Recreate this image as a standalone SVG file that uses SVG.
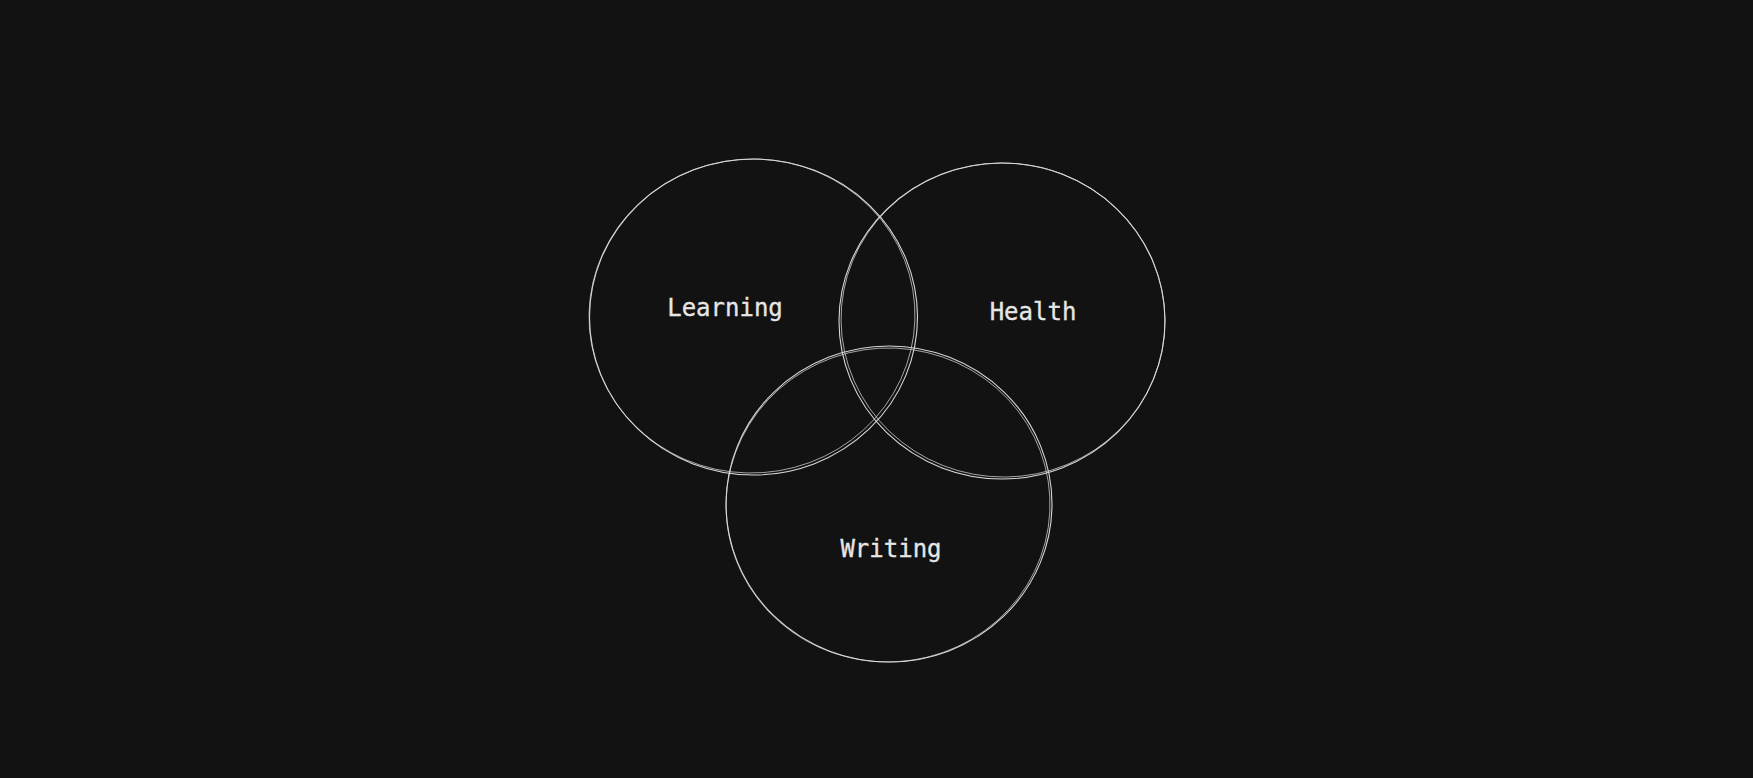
<svg xmlns="http://www.w3.org/2000/svg" width="1753" height="778" viewBox="0 0 1753 778">
<style>
.c{fill:none;stroke:#d8d8d8;stroke-width:1.1;stroke-linecap:round}
.c2{fill:none;stroke:#d8d8d8;stroke-width:0.9;stroke-opacity:0.8}
.t{font-family:"DejaVu Sans Mono","Liberation Mono",monospace;font-size:24px;fill:#e6e6e6;text-anchor:middle;stroke:#e6e6e6;stroke-width:0.3}
</style>
<rect width="1753" height="778" fill="#121212"/>
<g id="learning">
<ellipse class="c" cx="753.5" cy="317" rx="164" ry="158"/>
<ellipse class="c2" cx="752" cy="316" rx="163" ry="157" transform="rotate(-4 752 316)"/>
<text class="t" x="725" y="316">Learning</text>
</g>
<g id="health">
<ellipse class="c" cx="1002" cy="321" rx="163" ry="158"/>
<ellipse class="c2" cx="1003" cy="320" rx="162" ry="157" transform="rotate(5 1003 320)"/>
<text class="t" x="1033" y="320">Health</text>
</g>
<g id="writing">
<ellipse class="c" cx="889" cy="504" rx="163" ry="158"/>
<ellipse class="c2" cx="888" cy="505" rx="162" ry="157" transform="rotate(-3 888 505)"/>
<text class="t" x="891" y="557">Writing</text>
</g>
<g id="connectors"/>
</svg>
